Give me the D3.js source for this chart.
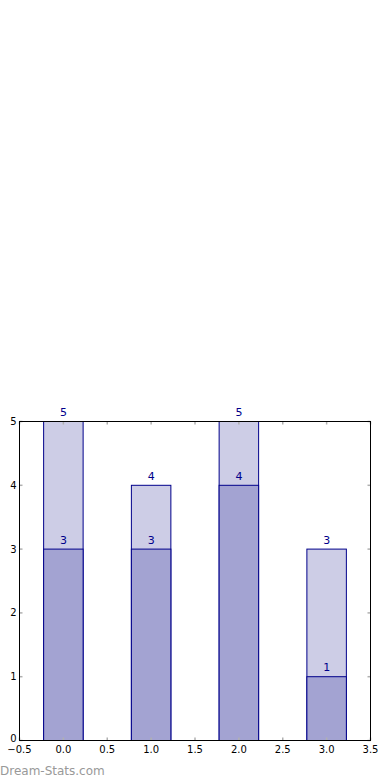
<!DOCTYPE html>
<html><head><meta charset="utf-8">
<script src="https://cdn.jsdelivr.net/npm/d3@7"></script>
<style>body{margin:0;background:#fff}svg{display:block}</style>
</head><body>
<script>
const categories = [0, 1, 2, 3];
const backValues = [5, 4, 5, 3];
const frontValues = [3, 3, 4, 1];
const xTicks = [-0.5, 0, 0.5, 1, 1.5, 2, 2.5, 3, 3.5];
const yTicks = [0, 1, 2, 3, 4, 5];

const W = 390, H = 780;
const svg = d3.select("body").append("svg").attr("width", W).attr("height", H);
const L = 19.5, R = 370.5, T = 421.5, B = 740.5;
const x = d3.scaleLinear().domain([-0.5, 3.5]).range([L, R]);
const y = d3.scaleLinear().domain([0, 5]).range([B, T]);
const bw = 0.45;
const font = "DejaVu Sans, sans-serif";

function bars(vals, fill) {
  svg.append("g").selectAll("rect").data(categories).join("rect")
    .attr("x", d => x(d - bw / 2)).attr("width", d => x(d + bw / 2) - x(d - bw / 2))
    .attr("y", (d, i) => y(vals[i])).attr("height", (d, i) => y(0) - y(vals[i]))
    .attr("fill", fill).attr("stroke", "#00008b").attr("stroke-width", 1);
}
bars(backValues, "#cdcde6");
bars(frontValues, "#a3a3d2");

function labels(vals) {
  svg.append("g").selectAll("text").data(categories).join("text")
    .attr("x", d => x(d)).attr("y", (d, i) => y(vals[i]) - 5.5)
    .attr("text-anchor", "middle").attr("font-family", font).attr("font-size", 11)
    .attr("fill", "#00008b").text((d, i) => vals[i]);
}
labels(backValues);
labels(frontValues);

// ticks (inward, grey) on all sides
const tk = svg.append("g").attr("stroke", "#b0b0b0").attr("stroke-width", 1.5);
xTicks.forEach(t => {
  tk.append("line").attr("x1", x(t)).attr("x2", x(t)).attr("y1", B).attr("y2", B - 3);
  tk.append("line").attr("x1", x(t)).attr("x2", x(t)).attr("y1", T).attr("y2", T + 3);
});
yTicks.forEach(t => {
  tk.append("line").attr("y1", y(t)).attr("y2", y(t)).attr("x1", L).attr("x2", L + 3);
  tk.append("line").attr("y1", y(t)).attr("y2", y(t)).attr("x1", R).attr("x2", R - 3);
});

// frame
svg.append("rect").attr("x", L).attr("y", T).attr("width", R - L).attr("height", B - T)
  .attr("fill", "none").attr("stroke", "#000").attr("stroke-width", 1);

// tick labels
svg.append("g").selectAll("text").data(xTicks).join("text")
  .attr("x", d => x(d)).attr("y", B + 12).attr("text-anchor", "middle")
  .attr("font-family", font).attr("font-size", 10).attr("fill", "#000")
  .text(d => (d < 0 ? "\u2212" : "") + Math.abs(d).toFixed(1));
svg.append("g").selectAll("text").data(yTicks).join("text")
  .attr("x", L - 3).attr("y", d => y(d) + 3.5 - (d === 0 ? 2 : 0)).attr("text-anchor", "end")
  .attr("font-family", font).attr("font-size", 10).attr("fill", "#000")
  .text(d => d);

svg.append("text").attr("x", 0).attr("y", 775).attr("font-family", font)
  .attr("font-size", 12).attr("fill", "#999")
  .text("Dream-Stats.com");
</script>
</body></html>
